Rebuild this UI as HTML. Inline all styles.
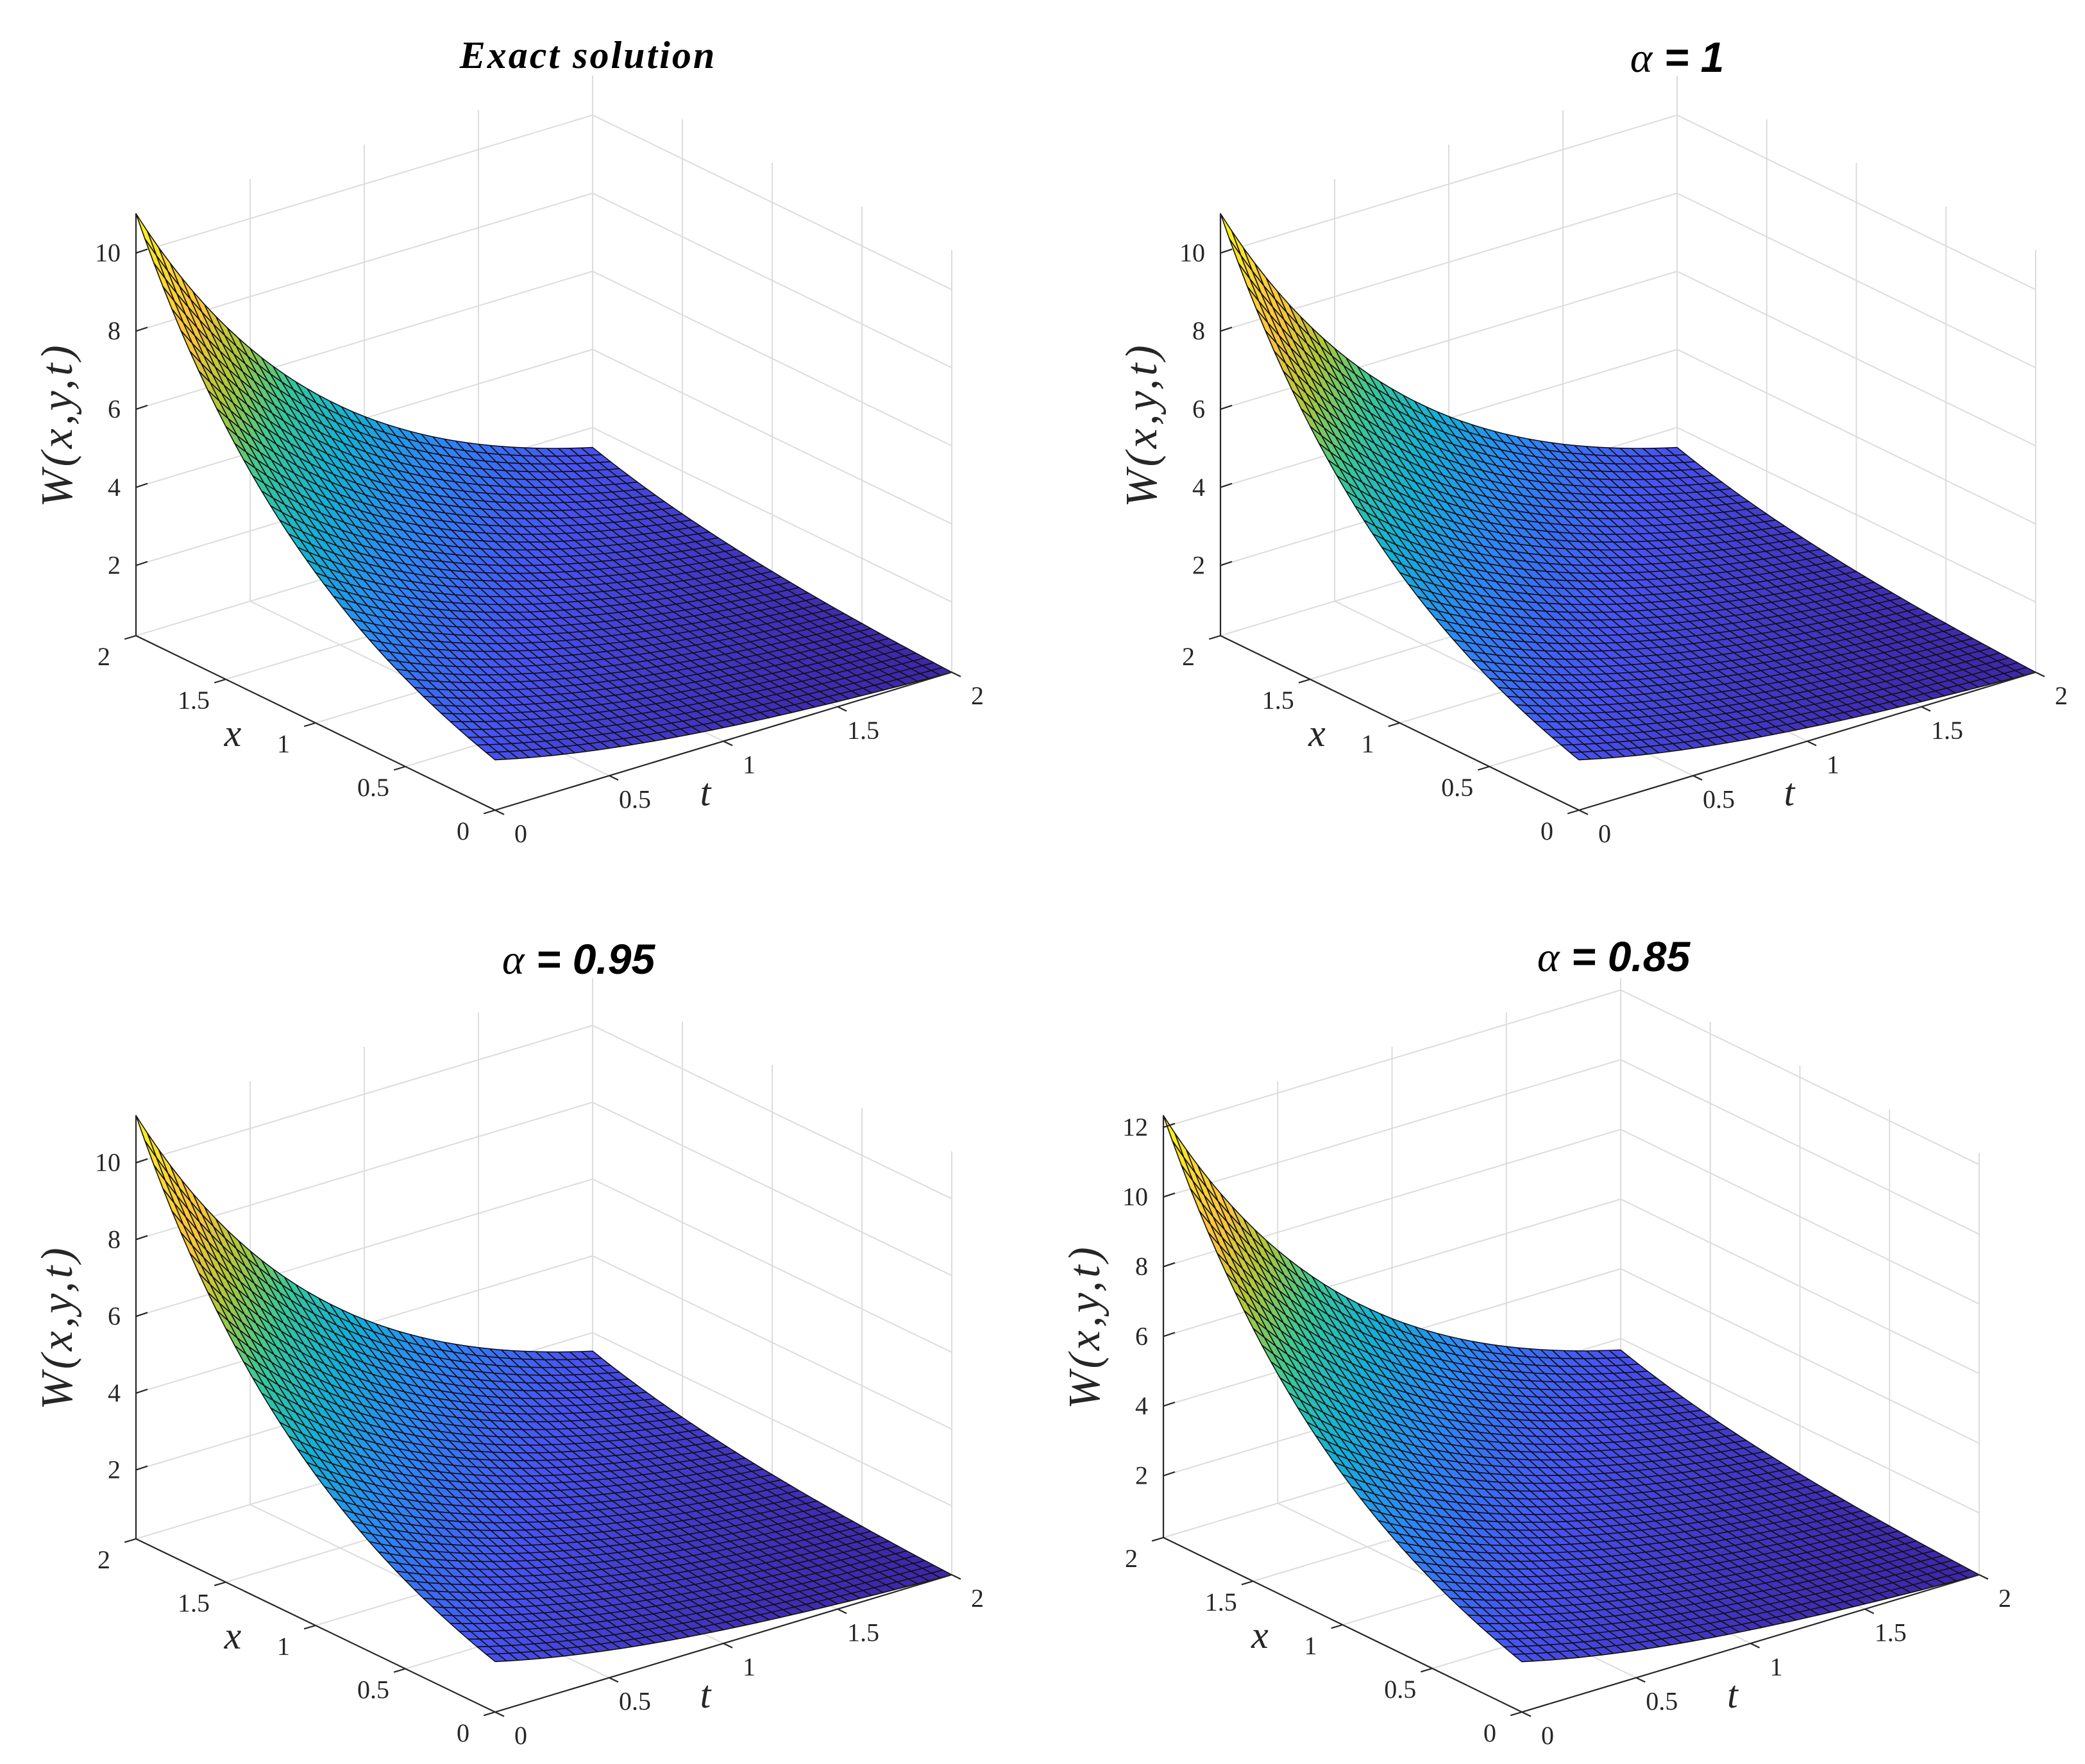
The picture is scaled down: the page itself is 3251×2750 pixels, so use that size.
<!DOCTYPE html>
<html><head><meta charset="utf-8"><style>
html,body{margin:0;padding:0;background:#fff;}
svg{display:block;}
.tl{font-family:"Liberation Serif",serif;font-size:40px;fill:#262626;}
</style></head><body>
<svg id="fig" width="3251" height="2750" viewBox="0 0 3251 2750" xmlns="http://www.w3.org/2000/svg">
<rect width="3251" height="2750" fill="#fff"/>
</svg>
<script>
// ---- data ----
const xGrid = [0,0.05,0.1,0.15,0.2,0.25,0.3,0.35,0.4,0.45,0.5,0.55,0.6,0.65,0.7,0.75,0.8,0.85,0.9,0.95,1,1.05,1.1,1.15,1.2,1.25,1.3,1.35,1.4,1.45,1.5,1.55,1.6,1.65,1.7,1.75,1.8,1.85,1.9,1.95,2];
const tGrid = [0,0.05,0.1,0.15,0.2,0.25,0.3,0.35,0.4,0.45,0.5,0.55,0.6,0.65,0.7,0.75,0.8,0.85,0.9,0.95,1,1.05,1.1,1.15,1.2,1.25,1.3,1.35,1.4,1.45,1.5,1.55,1.6,1.65,1.7,1.75,1.8,1.85,1.9,1.95,2];
const xProfile = [1.0000,1.0513,1.1052,1.1618,1.2214,1.2840,1.3499,1.4191,1.4918,1.5683,1.6487,1.7333,1.8221,1.9155,2.0138,2.1170,2.2255,2.3396,2.4596,2.5857,2.7183,2.8577,3.0042,3.1582,3.3201,3.4903,3.6693,3.8574,4.0552,4.2631,4.4817,4.7115,4.9530,5.2070,5.4739,5.7546,6.0496,6.3598,6.6859,7.0287,7.3891];
const tProfile = [1,0.9512,0.9048,0.8607,0.8187,0.7788,0.7408,0.7047,0.6703,0.6376,0.6065,0.5769,0.5488,0.5220,0.4966,0.4724,0.4493,0.4274,0.4066,0.3867,0.3679,0.3499,0.3329,0.3166,0.3012,0.2865,0.2725,0.2592,0.2466,0.2346,0.2231,0.2122,0.2019,0.1920,0.1827,0.1738,0.1653,0.1572,0.1496,0.1423,0.1353];
const amplitudes = [1.49, 1.49, 1.52, 1.67];
const titles = ["Exact solution", "1", "0.95", "0.85"];
const xTicks = [0,0.5,1,1.5,2];
const xTickLabels = ["0","0.5","1","1.5","2"];
const tTicks = [0,0.5,1,1.5,2];
const tTickLabels = ["0","0.5","1","1.5","2"];

// ---- layout (pixel geometry, not data) ----
const layout = [
 {F:[772,1263],L:[212,991],R:[1484,1048],H:658,title:[917,106]},
 {F:[2462,1263],L:[1903,991],R:[3174,1048],H:658,title:[2615,112]},
 {F:[772,2669],L:[212,2399],R:[1484,2455],H:660,title:[902,1518]},
 {F:[2373,2669],L:[1814,2397],R:[3086,2455],H:658,title:[2516,1514]}
];
const NS="http://www.w3.org/2000/svg";
const svg=document.getElementById('fig');
function el(tag,attrs,parent){const e=document.createElementNS(NS,tag);for(const k in attrs)e.setAttribute(k,attrs[k]);(parent||svg).appendChild(e);return e;}
const parula=[[0.2422,0.1504,0.6603],[0.2810,0.3228,0.9579],[0.1786,0.5289,0.9682],[0.0689,0.6948,0.8394],[0.2161,0.7843,0.5923],[0.6720,0.7793,0.2227],[0.9970,0.7659,0.2199],[0.9856,0.8557,0.1798],[0.9763,0.9831,0.0538]];
function cmap(v){v=Math.max(0,Math.min(1,v));const p=v*(parula.length-1);const i=Math.min(parula.length-2,Math.floor(p));const f=p-i;const c=parula[i].map((a,j)=>Math.round(255*(a+(parula[i+1][j]-a)*f)));return `rgb(${c[0]},${c[1]},${c[2]})`;}

layout.forEach((lay,pi)=>{
  const g=el('g',{});
  
  
  const amp=amplitudes[pi];
  const Z=xProfile.map(xv=>tProfile.map(tv=>amp*xv*tv));
  let zmin=Infinity,zmax=-Infinity;Z.forEach(r=>r.forEach(v=>{zmin=Math.min(zmin,v);zmax=Math.max(zmax,v);}));
  const xMax=xGrid[xGrid.length-1], tMax=tGrid[tGrid.length-1];
  const Xv=[lay.L[0]-lay.F[0],lay.L[1]-lay.F[1]], Tv=[lay.R[0]-lay.F[0],lay.R[1]-lay.F[1]];
  function P(x,t,z){return [lay.F[0]+Xv[0]*x/xMax+Tv[0]*t/tMax, lay.F[1]+Xv[1]*x/xMax+Tv[1]*t/tMax-lay.H*(z-zmin)/(zmax-zmin)];}
  const grid='#dcdcdc';
  const zTicks=[];for(let z=2;z<=zmax;z+=2)zTicks.push(z);
  const gw=el('g',{stroke:grid,'stroke-width':2,fill:'none'},g);
  
  
  zTicks.forEach(z=>{const a=P(xMax,0,z),b=P(xMax,tMax,z),c=P(0,tMax,z);el('polyline',{points:`${a} ${b} ${c}`},gw);});
  tTicks.forEach(t=>{const a=P(xMax,t,zmin),b=P(xMax,t,zmax),c=P(0,t,zmin);el('polyline',{points:`${c} ${a} ${b}`},gw);});
  xTicks.forEach(x=>{const a=P(x,tMax,zmin),b=P(x,tMax,zmax),c=P(x,0,zmin);el('polyline',{points:`${c} ${a} ${b}`},gw);});
  const cells=[];
  for(let i=0;i<xGrid.length-1;i++)for(let j=0;j<tGrid.length-1;j++)cells.push([i,j]);
  cells.sort((a,b)=>(b[0]+b[1])-(a[0]+a[1]));
  const gs=el('g',{stroke:'#111','stroke-width':1.6,'stroke-linejoin':'round'},g);
  
  
  cells.forEach(([i,j])=>{
    const pts=[[i,j],[i+1,j],[i+1,j+1],[i,j+1]].map(([a,b])=>P(xGrid[a],tGrid[b],Z[a][b]));
    const zc=(Z[i][j]+Z[i+1][j]+Z[i+1][j+1]+Z[i][j+1])/4;
    const p=el('polygon',{points:pts.map(q=>q[0].toFixed(1)+','+q[1].toFixed(1)).join(' '),fill:cmap((zc-zmin)/(zmax-zmin))},gs);
    
    
  });
  const ga=el('g',{stroke:'#262626','stroke-width':2.2,fill:'none'},g);
  
  
  el('line',{x1:P(xMax,0,zmin)[0],y1:P(xMax,0,zmin)[1],x2:P(xMax,0,zmax)[0],y2:P(xMax,0,zmax)[1]},ga);
  el('line',{x1:P(0,0,zmin)[0],y1:P(0,0,zmin)[1],x2:P(xMax,0,zmin)[0],y2:P(xMax,0,zmin)[1]},ga);
  el('line',{x1:P(0,0,zmin)[0],y1:P(0,0,zmin)[1],x2:P(0,tMax,zmin)[0],y2:P(0,tMax,zmin)[1]},ga);
  const tl=el('g',{},g);
  
  
  zTicks.forEach(z=>{const a=P(xMax,0,z);el('line',{x1:a[0],y1:a[1],x2:a[0]+18,y2:a[1]-6},ga);
    const t=el('text',{x:a[0]-24,y:a[1]+13,'text-anchor':'end',class:'tl'},tl);t.textContent=String(z);
    });
  xTicks.forEach((x,k)=>{const a=P(x,0,zmin);el('line',{x1:a[0],y1:a[1],x2:a[0]-Tv[0]*0.025,y2:a[1]-Tv[1]*0.025},ga);
    const t=el('text',{x:a[0]-50,y:a[1]+46,'text-anchor':'middle',class:'tl'},tl);t.textContent=xTickLabels[k];
    });
  tTicks.forEach((tv,k)=>{const a=P(0,tv,zmin);el('line',{x1:a[0],y1:a[1],x2:a[0]-Xv[0]*0.025,y2:a[1]-Xv[1]*0.025},ga);
    const t=el('text',{x:a[0]+40,y:a[1]+50,'text-anchor':'middle',class:'tl'},tl);t.textContent=tTickLabels[k];
    });
  const mx=P(xMax/2,0,zmin), mt=P(0,tMax/2,zmin);
  const xl=el('text',{x:mx[0]-129,y:mx[1]+36,'text-anchor':'middle','font-family':'Liberation Serif, serif','font-style':'italic','font-size':60,fill:'#262626'},g);
  xl.textContent='x';
  const tt=el('text',{x:mt[0]-28,y:mt[1]+100,'text-anchor':'middle','font-family':'Liberation Serif, serif','font-style':'italic','font-size':60,fill:'#262626'},g);
  tt.textContent='t';
  const zc=(lay.L[1]+lay.L[1]-lay.H)/2;
  const wl=el('text',{x:0,y:0,'text-anchor':'middle','font-family':'Liberation Serif, serif','font-style':'italic','font-size':70,'letter-spacing':'5',fill:'#262626',transform:`translate(${lay.L[0]-100},${zc}) rotate(-90)`},g);
  wl.textContent='W(x,y,t)';
  let tx;
  if(pi===0){tx=el('text',{x:lay.title[0],y:lay.title[1],'text-anchor':'middle','font-family':'Liberation Serif, serif','font-style':'italic','font-weight':'bold','font-size':60,'letter-spacing':'3',fill:'#000'},g);tx.textContent=titles[0];}
  else{tx=el('text',{x:lay.title[0],y:lay.title[1],'text-anchor':'middle','font-family':'Liberation Sans, sans-serif','font-style':'italic','font-weight':'bold','font-size':66,fill:'#000'},g);
    const a=el('tspan',{'font-family':'Liberation Serif, serif','font-weight':'normal'},tx);a.textContent='α';
    const b=el('tspan',{},tx);b.textContent=' = '+titles[pi];}
  
});
</script>
</body></html>
